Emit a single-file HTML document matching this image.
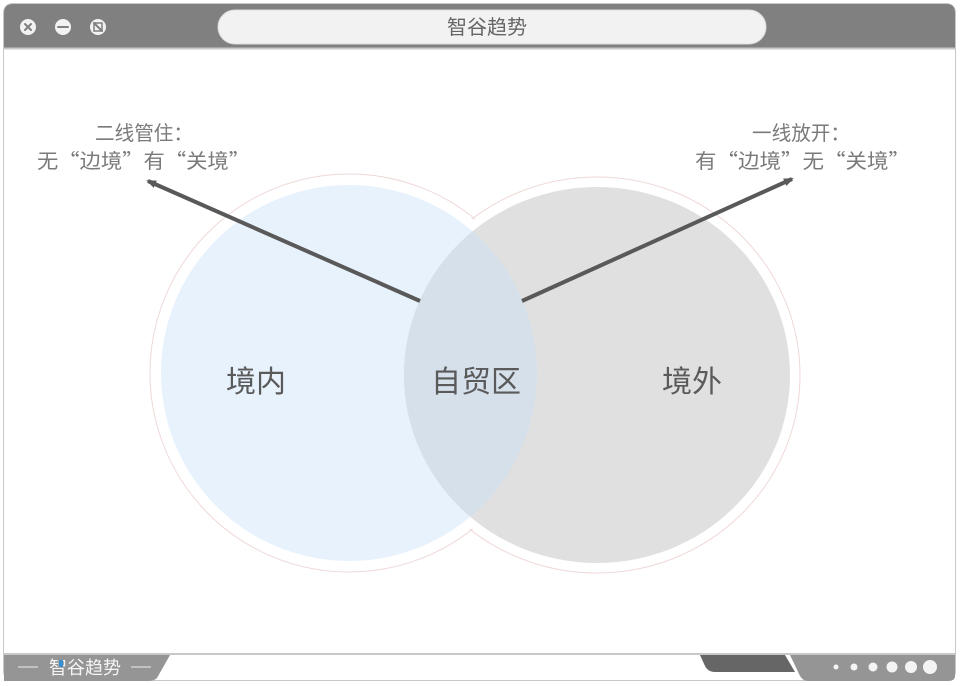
<!DOCTYPE html>
<html><head><meta charset="utf-8"><style>
html,body{margin:0;padding:0;background:#fff;}
svg{display:block;}
text{font-family:"Liberation Sans","Noto Sans CJK SC",sans-serif;}
.cjk{font-family:"Noto Sans CJK SC",sans-serif;}
</style></head><body>
<svg width="960" height="686" viewBox="0 0 960 686" xmlns="http://www.w3.org/2000/svg">
<defs>
<marker id="ah" markerWidth="10" markerHeight="8" refX="8" refY="4" orient="auto" markerUnits="userSpaceOnUse">
<path d="M0,0 L10,4 L0,8 Z" fill="#595959"/>
</marker>
</defs>
<rect x="3.5" y="3.5" width="952" height="677" rx="9" fill="#fff" stroke="#c8c8c8" stroke-width="1"/>
<path d="M4,48 L4,13 Q4,4 13,4 L947,4 Q955,4 955,13 L955,48 Z" fill="#808080"/>
<line x1="4" y1="48.5" x2="955" y2="48.5" stroke="#c8c8c8" stroke-width="2"/>
<rect x="218" y="10" width="548" height="34" rx="17" fill="#f2f2f2" stroke="#ddd"/>
<text x="487" y="34" font-size="20" fill="#666" text-anchor="middle">智谷趋势</text>
<g fill="#f2f2f2"><circle cx="28" cy="27" r="8"/><circle cx="63" cy="27" r="8"/><circle cx="98" cy="27" r="8"/></g>
<g stroke="#808080" stroke-width="2" stroke-linecap="round">
<line x1="25" y1="24" x2="31" y2="30"/><line x1="31" y1="24" x2="25" y2="30"/>
<line x1="58" y1="27" x2="68" y2="27"/>
<line x1="94" y1="23" x2="102" y2="31"/>
</g>
<rect x="94" y="23" width="8" height="8" fill="none" stroke="#808080" stroke-width="1.5"/>
<rect x="4" y="653" width="951" height="2" fill="#c8c8c8"/>
<path d="M4,655 L170,655 L157,678 Q154,681 148,681 L4,681 Z" fill="#959595"/>
<text x="85" y="674" font-size="18" fill="#f4f4f4" text-anchor="middle">智谷趋势</text>
<line x1="18" y1="667" x2="38" y2="667" stroke="#eee" stroke-width="1"/>
<line x1="131" y1="667" x2="151" y2="667" stroke="#eee" stroke-width="1"/>
<rect x="59" y="660" width="4" height="7" fill="#3a8fd0"/>
<path d="M700,655 L785,655 L795,672 L715,672 Q708,672 705,666 Z" fill="#666"/>
<path d="M790,655 L955,655 L955,676 Q955,681 948,681 L808,681 Q803,681 800,676 Z" fill="#959595"/>
<g fill="#f4f4f4"><circle cx="836" cy="667" r="2.5"/><circle cx="854" cy="667" r="3.5"/><circle cx="873" cy="667" r="4.5"/><circle cx="892" cy="667" r="5.5"/><circle cx="911" cy="667" r="6"/><circle cx="930" cy="667" r="7"/></g>
<circle cx="349" cy="373" r="199" fill="none" stroke="#f0d8d8" stroke-width="1"/>
<ellipse cx="597" cy="375" rx="203" ry="198" fill="none" stroke="#f0d8d8" stroke-width="1"/>
<circle cx="349" cy="373" r="197" fill="#fff"/>
<ellipse cx="597" cy="375" rx="201" ry="196" fill="#fff"/>
<circle cx="349" cy="373" r="188" fill="#e8f2fd"/>
<ellipse cx="597" cy="375" rx="193" ry="188" fill="#e0e0e0"/>
<clipPath id="cl"><circle cx="349" cy="373" r="188"/></clipPath>
<ellipse cx="597" cy="375" rx="193" ry="188" fill="#d6e0ea" clip-path="url(#cl)"/>
<line x1="420" y1="301" x2="148" y2="181" stroke="#595959" stroke-width="4" marker-end="url(#ah)"/>
<line x1="522" y1="301" x2="792" y2="179" stroke="#595959" stroke-width="4" marker-end="url(#ah)"/>
<g font-size="20" fill="#7a7a7a">
<text x="95" y="140" textLength="98" lengthAdjust="spacingAndGlyphs">二线管住：</text>
<text class="cjk" x="37" y="168" textLength="213" lengthAdjust="spacingAndGlyphs">无“边境”有“关境”</text>
<text x="752" y="140" textLength="98" lengthAdjust="spacingAndGlyphs">一线放开：</text>
<text class="cjk" x="695" y="168" textLength="215" lengthAdjust="spacingAndGlyphs">有“边境”无“关境”</text>
</g>
<g font-size="30" fill="#5a5a5a" text-anchor="middle">
<text x="256" y="392">境内</text>
<text x="476" y="392">自贸区</text>
<text x="692" y="392">境外</text>
</g>
</svg>
</body></html>
